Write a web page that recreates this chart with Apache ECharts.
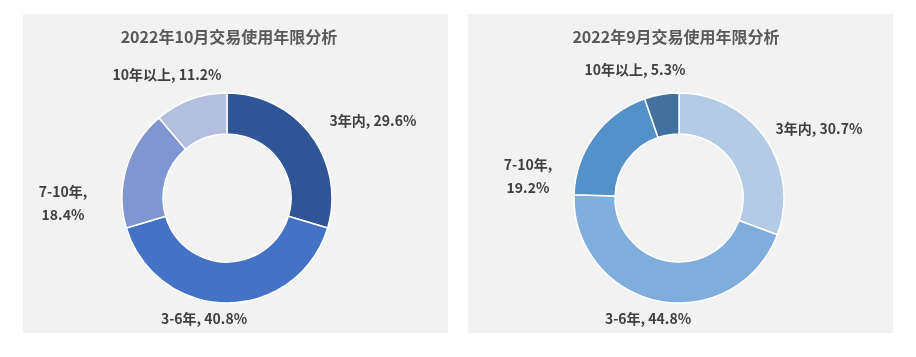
<!DOCTYPE html>
<html><head><meta charset="utf-8">
<script src="https://cdn.jsdelivr.net/npm/echarts@6/dist/echarts.min.js"></script>
<style>html,body{margin:0;padding:0;background:#fff}#c{width:916px;height:357px}</style>
</head><body><div id="c"></div>
<script>
const categories = ['3年内', '3-6年', '7-10年', '10年以上'];
const octValues = [29.6, 40.8, 18.4, 11.2];
const sepValues = [30.7, 44.8, 19.2, 5.3];
const octTitle = '2022年10月交易使用年限分析';
const sepTitle = '2022年9月交易使用年限分析';
const octColors = ['#2f5597', '#4472c4', '#7f96d0', '#b4bfe0'];
const sepColors = ['#b4cbe6', '#80aedc', '#5591c9', '#41719c'];

// layout: pie centres and label offsets (relative to each pie centre)
const pieCenters = [[227, 198], [679, 198]];
const labelOffsets = [
  [[146, -77], [-23, 121], [-164, 5], [-60, -123]],
  [[140, -69], [-31, 121], [-151, -22], [-44, -128]]
];

const FONT = '"Noto Sans CJK SC", "Noto Sans", sans-serif';
const chart = echarts.init(document.getElementById('c'), null, {renderer: 'canvas'});

function mkData(vals, colors) {
  return categories.map((c, i) => ({name: c, value: vals[i], itemStyle: {color: colors[i]}}));
}
function fmt(p) {
  const v = p.value.toFixed(1) + '%';
  if (p.name === '7-10年') return p.name + ',\n' + v;
  return p.name + ', ' + v;
}
function pie(idx, vals, colors) {
  return {
    type: 'pie', center: pieCenters[idx], radius: [64, 105], startAngle: 90, clockwise: true,
    avoidLabelOverlap: false, animation: false,
    data: mkData(vals, colors),
    itemStyle: {borderColor: '#ffffff', borderWidth: 1.5},
    label: {show: true, position: 'outside', formatter: fmt, fontFamily: FONT, fontSize: 14,
      fontWeight: 'bold', color: '#404040', lineHeight: 23},
    labelLine: {show: false},
    labelLayout: function (p) {
      const c = pieCenters[idx];
      const o = labelOffsets[idx][p.dataIndex];
      return {x: c[0] + o[0], y: c[1] + o[1], align: 'center', verticalAlign: 'middle'};
    },
    emphasis: {disabled: true}
  };
}
chart.setOption({
  backgroundColor: '#ffffff',
  graphic: [
    {type: 'rect', shape: {x: 23, y: 14, width: 425, height: 319}, style: {fill: '#f2f2f2'}, z: -10},
    {type: 'rect', shape: {x: 468, y: 14, width: 425, height: 319}, style: {fill: '#f2f2f2'}, z: -10}
  ],
  title: [
    {text: octTitle, left: 224, top: 24, textAlign: 'center',
      textStyle: {fontFamily: FONT, fontSize: 16, fontWeight: 'bold', color: '#595959'}},
    {text: sepTitle, left: 671, top: 24, textAlign: 'center',
      textStyle: {fontFamily: FONT, fontSize: 16, fontWeight: 'bold', color: '#595959'}}
  ],
  series: [pie(0, octValues, octColors), pie(1, sepValues, sepColors)]
});
</script></body></html>
